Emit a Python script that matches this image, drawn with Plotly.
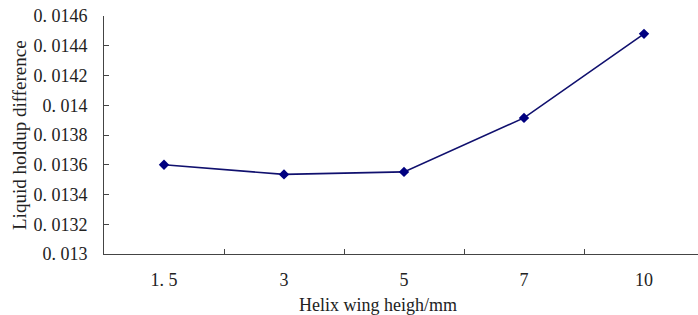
import plotly.graph_objects as go

categories = ["1. 5", "3", "5", "7", "10"]
holdup_diff = [0.01360, 0.013535, 0.013552, 0.013915, 0.014480]
y_tick_vals = [0.013, 0.0132, 0.0134, 0.0136, 0.0138, 0.014, 0.0142, 0.0144, 0.0146]
y_tick_text = ["0. 013", "0. 0132", "0. 0134", "0. 0136", "0. 0138", "0. 014", "0. 0142", "0. 0144", "0. 0146"]

FONT = "Liberation Serif"
line_color = "#10106e"
marker_color = "#000080"
axis_color = "#444444"

W, H = 698, 315
L, T, B, R = 104, 16, 315 - 254, 0
pw, ph = W - L - R, H - T - B

def px_x(sx):
    return (sx - L) / pw

def px_y(sy):
    return (T + ph - sy) / ph

fig = go.Figure()
fig.add_trace(go.Scatter(
    x=categories, y=holdup_diff, mode="lines+markers",
    line=dict(color=line_color, width=1.6),
    marker=dict(symbol="diamond", size=8, color=marker_color),
))

fig.update_layout(
    width=W, height=H,
    margin=dict(l=L, r=R, t=T, b=B),
    paper_bgcolor="white", plot_bgcolor="white",
    showlegend=False,
    font=dict(family=FONT, size=18, color="#222222"),
    xaxis=dict(
        type="category", range=[-0.5, 4.45], automargin=False,
        tickson="boundaries", ticks="inside", ticklen=5, tickcolor=axis_color,
        showline=True, linecolor=axis_color, linewidth=1,
        showgrid=False, zeroline=False,
        tickfont=dict(family=FONT, size=18),
        ticklabelstandoff=9, ticklabeloverflow="allow",
    ),
    yaxis=dict(
        range=[0.013, 0.0146], tickvals=y_tick_vals, ticktext=y_tick_text,
        automargin=False,
        ticks="inside", ticklen=5, tickcolor=axis_color,
        showline=True, linecolor=axis_color, linewidth=1,
        showgrid=False, zeroline=False,
        tickfont=dict(family=FONT, size=18),
        ticklabelstandoff=12, ticklabeloverflow="allow",
    ),
    annotations=[
        dict(text="Helix wing heigh/mm", xref="paper", yref="paper",
             x=px_x(378), y=px_y(305),
             xanchor="center", yanchor="middle", showarrow=False,
             font=dict(family=FONT, size=18, color="#222222")),
        dict(text="Liquid holdup difference", xref="paper", yref="paper",
             x=px_x(19), y=px_y(135),
             xanchor="center", yanchor="middle", showarrow=False, textangle=-90,
             font=dict(family=FONT, size=19, color="#222222")),
    ],
)

fig.write_html("out.html", config={"displayModeBar": False},
               post_script="document.body.style.margin='0';")
